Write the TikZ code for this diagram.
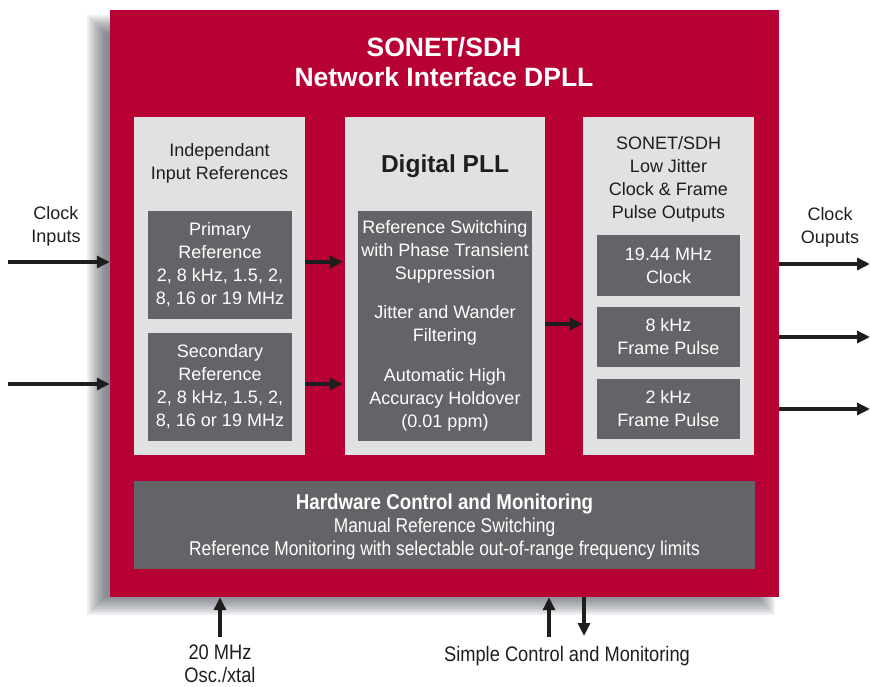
\documentclass[tikz,border=0pt]{standalone}
\usepackage{fontspec}
\setmainfont{Liberation Sans}
\newfontfamily\narrowfont[FakeStretch=0.87]{Liberation Sans}
\usepackage{tikz}
\usetikzlibrary{arrows.meta}
\definecolor{dpllred}{HTML}{B70033}
\definecolor{panelgray}{HTML}{E0E1E3}
\definecolor{boxgray}{HTML}{636467}
\definecolor{inkgray}{HTML}{1E1E1E}
\definecolor{shadegray}{HTML}{2A3140}
\tikzset{
	panel/.style={fill=panelgray, minimum width=171pt, minimum height=338pt, inner sep=0pt},
	darkbox/.style={fill=boxgray, text=white, align=center, inner sep=0pt},
	sig/.style={draw=inkgray, line width=3.6pt, -{Triangle[length=13pt,width=12pt]}},
	txt/.style={align=center, text=inkgray, font=\fontsize{18}{23}\selectfont},
	narrowtxt/.style={align=center, text=inkgray, font=\narrowfont\fontsize{21}{24}\selectfont}
}

\begin{document}
\begin{tikzpicture}[x=1pt,y=-1pt]
							\useasboundingbox (0,0) rectangle (870,687);
							
							% soft shadow behind the red chip
							\foreach \d in {-9,-7,...,9}
								\fill[shadegray, opacity=0.08] (96+\d,24+\d) rectangle (766-\d,606-\d);
							
							\node[fill=dpllred, minimum width=669pt, minimum height=587pt, inner sep=0pt] (chip) at (444.5,303.5) {};
							\node[align=center, text=white, font=\fontsize{26.5}{30}\bfseries\selectfont] (title) at (444,62) {SONET/SDH\\Network Interface DPLL};
							
							% three panels
							\node[panel] (inpanel) at (219.5,286) {};
							\node[panel, minimum width=200pt] (pllpanel) at (445,286) {};
							\node[panel] (outpanel) at (668.5,286) {};
							
							\node[txt] (inhead) at (219.5,163) {Independant\\Input References};
							\node[txt, font=\fontsize{24.5}{28}\bfseries\selectfont] (pllhead) at (445,166) {Digital PLL};
							\node[txt] (outhead) at (668.5,179.5) {SONET/SDH\\Low Jitter\\Clock \& Frame\\Pulse Outputs};
							
							\node[darkbox, txt, text=white, minimum width=144pt, minimum height=108pt] (prim) at (220,265) {Primary\\Reference\\2, 8 kHz, 1.5, 2,\\8, 16 or 19 MHz};
							\node[darkbox, txt, text=white, minimum width=144pt, minimum height=108pt] (sec) at (220,387) {Secondary\\Reference\\2, 8 kHz, 1.5, 2,\\8, 16 or 19 MHz};
							
							\node[darkbox, minimum width=174pt, minimum height=230pt] (pll) at (445,326) {};
							\node[txt, text=white] (switch) at (445,252) {Reference Switching\\with Phase Transient\\Suppression};
							\node[txt, text=white] (jitter) at (445,325) {Jitter and Wander\\Filtering};
							\node[txt, text=white] (holdover) at (445,399.5) {Automatic High\\Accuracy Holdover\\(0.01 ppm)};
							
							\node[darkbox, txt, text=white, minimum width=143pt, minimum height=61pt] (clk) at (668.5,265.5) {19.44 MHz\\Clock};
							\node[darkbox, txt, text=white, minimum width=143pt, minimum height=60pt] (fp8) at (668.5,337) {8 kHz\\Frame Pulse};
							\node[darkbox, txt, text=white, minimum width=143pt, minimum height=60pt] (fp2) at (668.5,409) {2 kHz\\Frame Pulse};
							
							\node[darkbox, minimum width=621pt, minimum height=88pt] (hw) at (444.5,525) {};
							\node[narrowtxt, text=white, font=\narrowfont\fontsize{21.5}{24}\bfseries\selectfont] (hwhead) at (444.5,504) {Hardware Control and Monitoring};
							\node[narrowtxt, text=white, font=\narrowfont\fontsize{20}{23}\selectfont] (hwtext) at (444.5,539) {Manual Reference Switching\\Reference Monitoring with selectable out-of-range frequency limits};
							
							% outside signal ends
							\coordinate (in1) at (8,262);
							\coordinate (in2) at (8,384);
							\coordinate (out1) at (870,264);
							\coordinate (out2) at (870,337);
							\coordinate (out3) at (870,409);
							\coordinate (xtal) at (220,637);
							\coordinate (ctlin) at (549,637);
							\coordinate (ctlout) at (584,636);
							
							\draw[sig] (in1) -- (chip.west |- in1);
							\draw[sig] (in2) -- (chip.west |- in2);
							\draw[sig] (inpanel.east |- in1) -- ([xshift=-2pt]pllpanel.west |- in1);
							\draw[sig] (inpanel.east |- in2) -- ([xshift=-2pt]pllpanel.west |- in2);
							\draw[sig] (pllpanel.east |- 0,324) -- (outpanel.west |- 0,324);
							\draw[sig] (chip.east |- out1) -- (out1);
							\draw[sig] (chip.east |- out2) -- (out2);
							\draw[sig] (chip.east |- out3) -- (out3);
							\draw[sig] (xtal) -- (chip.south -| xtal);
							\draw[sig] (ctlin) -- (chip.south -| ctlin);
							\draw[sig] (chip.south -| ctlout) -- (ctlout);
							
							\node[txt] (inlabel) at (56,226) {Clock\\Inputs};
							\node[txt] (outlabel) at (830,227.5) {Clock\\Ouputs};
							\node[narrowtxt, font=\narrowfont\fontsize{21}{23}\selectfont] (xtallabel) at (220,664) {20 MHz\\Osc./xtal};
							\node[narrowtxt] (ctllabel) at (567,656) {Simple Control and Monitoring};
						\end{tikzpicture}
\end{document}
